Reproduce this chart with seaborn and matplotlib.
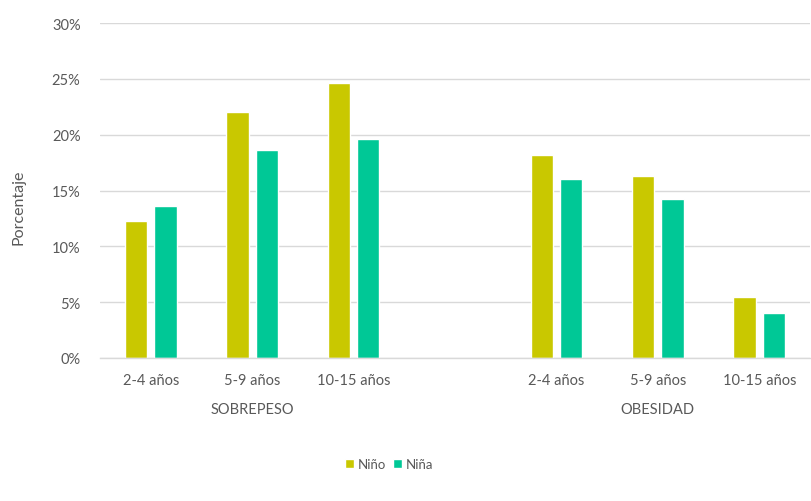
import matplotlib
matplotlib.use("Agg")
import matplotlib.pyplot as plt
import matplotlib.transforms as mtransforms
import seaborn as sns
import pandas as pd

# ---- data ----
groups = ["SOBREPESO", "OBESIDAD"]
ages = ["2-4 años", "5-9 años", "10-15 años"]
sexes = ["Niño", "Niña"]
sobrepeso_nino = [12.3, 22.0, 24.6]
sobrepeso_nina = [13.6, 18.6, 19.6]
obesidad_nino = [18.2, 16.3, 5.5]
obesidad_nina = [16.0, 14.2, 4.0]
yticks = [0, 5, 10, 15, 20, 25, 30]

colors = {"Niño": "#C9C800", "Niña": "#00C896"}

rows = []
for g, nino, nina in [("SOBREPESO", sobrepeso_nino, sobrepeso_nina),
                      ("OBESIDAD", obesidad_nino, obesidad_nina)]:
    for a, v1, v2 in zip(ages, nino, nina):
        key = f"{g}|{a}"
        rows.append({"cat": key, "sexo": "Niño", "valor": v1})
        rows.append({"cat": key, "sexo": "Niña", "valor": v2})
df = pd.DataFrame(rows)

order = [f"SOBREPESO|{a}" for a in ages] + ["__gap__"] + [f"OBESIDAD|{a}" for a in ages]

sns.set_theme(style="white")
plt.rcParams["font.family"] = ["Lato", "DejaVu Sans"]

fig = plt.figure(figsize=(8.11, 5.02), dpi=100)
ax = fig.add_axes([100/811, 1-359/502, 710/811, (359-24)/502])

sns.barplot(data=df, x="cat", y="valor", hue="sexo", order=order,
            hue_order=sexes, palette=colors, width=0.58, gap=0.24,
            saturation=1, ax=ax, legend=True)

ax.set_xlim(-0.5, 6.5)
ax.set_ylim(0, 30)
ax.set_yticks(yticks)
ax.set_yticklabels([f"{t}%" for t in yticks])
ax.yaxis.grid(True, color="#D9D9D9", linewidth=1)
ax.set_axisbelow(True)

tick_pos = [0, 1, 2, 4, 5, 6]
ax.set_xticks(tick_pos)
ax.set_xticklabels(ages + ages)
ax.tick_params(axis="both", length=0, labelsize=10.5, labelcolor="#595959")
ax.tick_params(axis="x", pad=11)
ax.tick_params(axis="y", pad=14)

ax.set_xlabel("")
ax.set_ylabel("")
fig.text(19/811, 1-207/502, "Porcentaje", rotation=90, ha="center", va="center",
         fontsize=11.5, color="#595959")

for s in ["top", "right", "left"]:
    ax.spines[s].set_visible(False)
ax.spines["bottom"].set_color("#D9D9D9")
ax.spines["bottom"].set_linewidth(1)

trans = mtransforms.blended_transform_factory(ax.transData, fig.transFigure)
ax.text(1, 1-410/502, "SOBREPESO", transform=trans, ha="center", va="center",
        fontsize=10.5, color="#595959")
ax.text(5, 1-410/502, "OBESIDAD", transform=trans, ha="center", va="center",
        fontsize=10.5, color="#595959")

leg = ax.legend(loc="center", bbox_to_anchor=(389/811, 1-465/502),
                bbox_transform=fig.transFigure, ncol=2, frameon=False,
                handlelength=0.7, handleheight=0.7, handletextpad=0.3,
                columnspacing=0.5, fontsize=9.5)
for t in leg.get_texts():
    t.set_color("#595959")

fig.savefig("out.png", dpi=100)
